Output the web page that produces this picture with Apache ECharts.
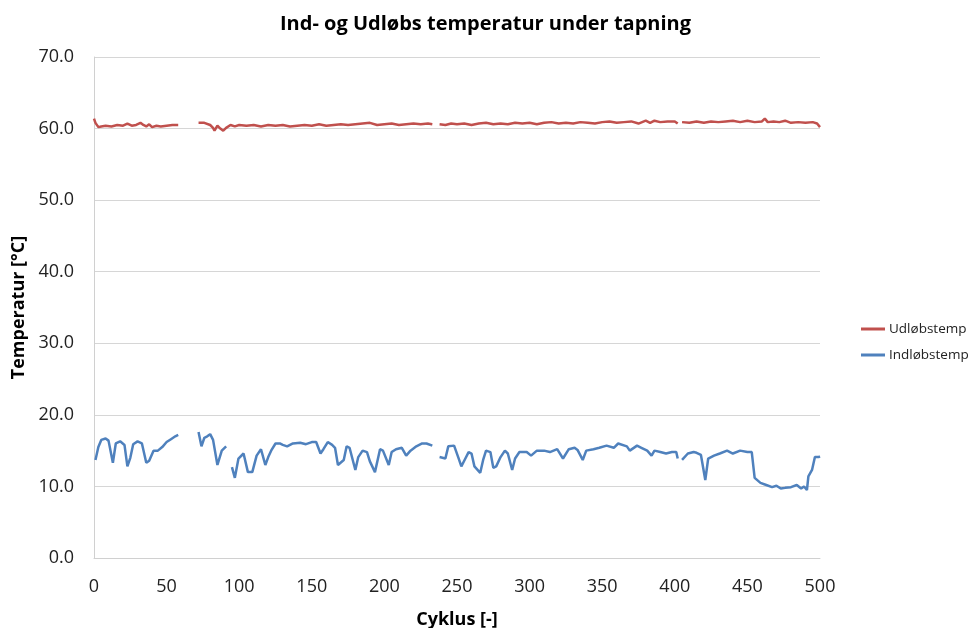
<!DOCTYPE html>
<html>
<head>
<meta charset="utf-8">
<script src="https://cdn.jsdelivr.net/npm/echarts@6/dist/echarts.min.js"></script>
<style>
  html, body { margin: 0; padding: 0; background: #fff; }
  #main { width: 971px; height: 628px; }
</style>
</head>
<body>
<div id="main"></div>
<script>
// data, null = break in the line
var udCycles = [0, 1, 3, 5, 8, 12, 16, 20, 23, 26, 29, 32, 34, 36, 38, 40, 43, 46, 50, 54, 58, 65,
    72, 76, 80, 82, 83, 85, 87, 89, 91, 94, 97, 100, 105, 110, 115, 120, 125, 130, 135, 140, 145, 150, 155, 160, 165, 170, 175, 180, 185, 190, 195, 200, 205, 210, 215, 220, 225, 230, 233, 235,
    238, 242, 246, 250, 255, 260, 265, 270, 275, 280, 285, 290, 295, 300, 305, 310, 315, 320, 325, 330, 335, 340, 345, 350, 355, 360, 365, 370, 375, 380, 383, 386, 390, 395, 400, 402, 403.5,
    405, 410, 415, 420, 425, 430, 435, 440, 445, 450, 455, 460, 462, 464, 468, 472, 476, 480, 485, 490, 495, 498, 500];
var udValues = [61.4, 60.8, 60.2, 60.3, 60.4, 60.3, 60.5, 60.4, 60.7, 60.4, 60.5, 60.8, 60.5, 60.3, 60.6, 60.2, 60.4, 60.3, 60.4, 60.5, 60.5, null,
    60.8, 60.8, 60.5, 60.1, 59.7, 60.4, 60.0, 59.7, 60.1, 60.5, 60.3, 60.5, 60.4, 60.5, 60.3, 60.5, 60.4, 60.5, 60.3, 60.4, 60.5, 60.4, 60.6, 60.4, 60.5, 60.6, 60.5, 60.6, 60.7, 60.8, 60.5, 60.6, 60.7, 60.5, 60.6, 60.7, 60.6, 60.7, 60.6, null,
    60.6, 60.5, 60.7, 60.6, 60.7, 60.5, 60.7, 60.8, 60.6, 60.7, 60.6, 60.8, 60.7, 60.8, 60.6, 60.8, 60.9, 60.7, 60.8, 60.7, 60.9, 60.8, 60.7, 60.9, 61.0, 60.8, 60.9, 61.0, 60.7, 61.1, 60.8, 61.1, 60.9, 61.0, 61.0, 60.7, null,
    60.9, 60.8, 61.0, 60.8, 61.0, 60.9, 61.0, 61.1, 60.9, 61.1, 60.9, 61.0, 61.4, 60.9, 61.0, 60.9, 61.1, 60.8, 60.9, 60.8, 60.9, 60.7, 60.2];

var indCycles = [1, 3, 5, 8, 10, 13, 15, 18, 21, 23, 25, 27, 30, 33, 36, 38, 41, 44, 47, 50, 53, 56, 58, 65,
    72, 74, 76, 78, 80, 82, 85, 88, 91, 93,
    95, 97, 99.5, 103, 106, 109, 112, 115, 118, 120, 122, 125, 128, 130, 133, 137, 142, 146, 150, 153, 156, 158, 161, 164, 166, 168, 172, 174, 176, 180, 182, 185, 188, 190, 193.5, 197, 199, 203, 205, 208, 212, 215, 218, 222, 226, 229, 233, 235,
    238, 242, 244, 248, 251, 253, 255.5, 258, 260, 262, 266, 268, 270, 273, 275, 277, 280, 283, 285, 288, 290, 293, 298, 301, 305, 310, 314, 319, 323, 327, 331, 333, 336.6, 339, 344, 348, 353, 358, 361, 367, 369, 374, 377, 381, 384, 386, 390, 394, 398, 401, 402, 403.5,
    405, 409, 413, 415, 418, 421, 423, 427, 431, 436, 440, 445, 450, 453, 455, 459, 463, 467, 470, 473, 476, 480, 484, 487, 489, 491, 492, 494.5, 496.5, 499, 500];
var indValues = [13.7, 15.5, 16.5, 16.7, 16.4, 13.3, 16.0, 16.3, 15.8, 12.8, 14.0, 15.9, 16.3, 16.0, 13.3, 13.6, 15.0, 15.0, 15.5, 16.2, 16.6, 17.0, 17.2, null,
    17.6, 15.6, 16.8, 17.0, 17.3, 16.5, 13.0, 15.0, 15.6, null,
    12.7, 11.2, 13.9, 14.6, 12.0, 12.0, 14.3, 15.2, 13.0, 14.1, 15.0, 16.0, 16.0, 15.8, 15.6, 16.0, 16.1, 15.9, 16.2, 16.2, 14.6, 15.2, 16.2, 15.8, 15.4, 13.0, 13.7, 15.6, 15.4, 12.3, 14.1, 15.0, 14.8, 13.5, 12.0, 15.2, 15.0, 13.0, 14.8, 15.2, 15.4, 14.3, 15.0, 15.6, 16.0, 16.0, 15.7, null,
    14.1, 13.9, 15.6, 15.7, 14.0, 12.8, 13.8, 14.8, 14.6, 12.8, 11.9, 13.7, 15.0, 14.8, 12.6, 12.8, 14.1, 15.0, 14.6, 12.3, 13.9, 14.8, 14.8, 14.3, 15.0, 15.0, 14.8, 15.2, 13.9, 15.2, 15.4, 15.1, 13.7, 15.0, 15.2, 15.4, 15.7, 15.4, 16.0, 15.6, 15.0, 15.7, 15.4, 15.0, 14.3, 15.0, 14.8, 14.6, 14.8, 14.8, 13.9, null,
    13.7, 14.6, 14.8, 14.7, 14.4, 10.9, 13.9, 14.3, 14.6, 15.0, 14.6, 15.0, 14.8, 14.8, 11.2, 10.5, 10.2, 9.9, 10.1, 9.7, 9.8, 9.9, 10.2, 9.7, 10.0, 9.5, 11.4, 12.3, 14.1, 14.1, 14.2];

function pairs(xs, ys) {
    var out = [];
    for (var i = 0; i < xs.length; i++) {
        out.push([xs[i], ys[i] == null ? '-' : ys[i]]);
    }
    return out;
}

var myChart = echarts.init(document.getElementById('main'));

var font = 'Open Sans';

var option = {
    animation: false,
    title: {
        text: 'Ind- og Udløbs temperatur under tapning',
        left: 'center',
        top: 9,
        textStyle: { fontFamily: font, fontSize: 20, fontWeight: 'bold', color: '#000' }
    },
    legend: {
        orient: 'vertical',
        left: 856,
        top: 317,
        itemWidth: 24,
        itemHeight: 3,
        itemGap: 12,
        icon: 'rect',
        textStyle: { fontFamily: font, fontSize: 13.5, color: '#222', padding: [0, 0, 0, -1] },
        data: ['Udløbstemp', 'Indløbstemp']
    },
    grid: {
        left: 94,
        right: 151,
        top: 57,
        bottom: 70,
        containLabel: false,
        outerBoundsMode: 'none'
    },
    xAxis: {
        type: 'value',
        min: 0,
        max: 500,
        interval: 50,
        name: 'Cyklus [-]',
        nameLocation: 'middle',
        nameGap: 53,
        nameTextStyle: { fontFamily: font, fontSize: 18, fontWeight: 'bold', color: '#000' },
        axisLine: { lineStyle: { color: '#d0d0d0', width: 1 } },
        axisTick: { show: false },
        splitLine: { show: false },
        axisLabel: { fontFamily: font, fontSize: 18, color: '#222', margin: 20 }
    },
    yAxis: {
        type: 'value',
        min: 0,
        max: 70,
        interval: 10,
        name: 'Temperatur [°C]',
        nameLocation: 'middle',
        nameGap: 66,
        nameRotate: 90,
        nameTextStyle: { fontFamily: font, fontSize: 18, fontWeight: 'bold', color: '#000' },
        axisLine: { show: true, lineStyle: { color: '#d0d0d0', width: 1 } },
        axisTick: { show: false },
        splitLine: { lineStyle: { color: '#d6d6d6', width: 1 } },
        axisLabel: {
            fontFamily: font, fontSize: 18, color: '#222', margin: 20,
            formatter: function (v) { return v.toFixed(1); }
        }
    },
    series: [
        {
            name: 'Udløbstemp',
            type: 'line',
            symbol: 'none',
            connectNulls: false,
            lineStyle: { color: '#c0504d', width: 2.5 },
            itemStyle: { color: '#c0504d' },
            data: pairs(udCycles, udValues)
        },
        {
            name: 'Indløbstemp',
            type: 'line',
            symbol: 'none',
            connectNulls: false,
            lineStyle: { color: '#4f81bd', width: 2.5 },
            itemStyle: { color: '#4f81bd' },
            data: pairs(indCycles, indValues)
        }
    ]
};

myChart.setOption(option);
</script>
</body>
</html>
